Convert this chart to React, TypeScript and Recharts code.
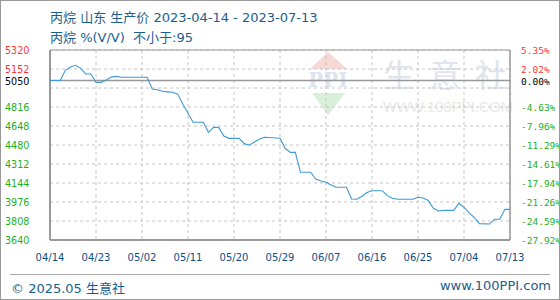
import { LineChart, Line, XAxis, YAxis, ReferenceLine, CartesianGrid } from "recharts";

const baseDate = "2023-04-14";
const basePrice = 5050;

const priceDates = [
  "04-14", "04-16", "04-17", "04-18", "04-19", "04-20", "04-21", "04-22", "04-23", "04-24",
  "04-25", "04-26", "04-27", "04-28", "05-03", "05-04", "05-05", "05-06", "05-07", "05-08",
  "05-09", "05-10", "05-11", "05-12", "05-14", "05-15", "05-16", "05-17", "05-18", "05-19",
  "05-21", "05-22", "05-23", "05-24", "05-25", "05-26", "05-29", "05-30", "05-31", "06-01",
  "06-02", "06-04", "06-05", "06-06", "06-07", "06-08", "06-09", "06-11", "06-12", "06-13",
  "06-14", "06-15", "06-16", "06-18", "06-19", "06-20", "06-21", "06-24", "06-25", "06-26",
  "06-27", "06-28", "06-29", "06-30", "07-02", "07-03", "07-04", "07-05", "07-06", "07-07",
  "07-09", "07-10", "07-11", "07-12", "07-13",
];

const prices = [
  5050, 5050, 5140, 5170, 5185, 5158, 5108, 5108, 5034, 5034,
  5055, 5080, 5087, 5079, 5079, 4975, 4969, 4955, 4950, 4946,
  4930, 4840, 4760, 4681, 4681, 4592, 4636, 4636, 4560, 4539,
  4539, 4492, 4478, 4506, 4533, 4548, 4540, 4451, 4415, 4415,
  4239, 4239, 4179, 4162, 4150, 4126, 4106, 4106, 4002, 4000,
  4025, 4060, 4076, 4076, 4032, 4009, 4000, 4000, 4018, 4012,
  3990, 3920, 3896, 3902, 3902, 3964, 3930, 3880, 3840, 3785,
  3781, 3823, 3823, 3911, 3911,
];

const xTickLabels = ["04/14", "04/23", "05/02", "05/11", "05/20", "05/29", "06/07", "06/16", "06/25", "07/04", "07/13"];
const xTickDays = [0, 9, 18, 27, 36, 45, 54, 63, 72, 81, 90];
const yTicks = [3640, 3808, 3976, 4144, 4312, 4480, 4648, 4816, 4984, 5050, 5152, 5320];
const rightTickLabels = ["-27.92%", "-24.59%", "-21.26%", "-17.94%", "-14.61%", "-11.29%", "-7.96%", "-4.63%", "", "0.00%", "2.02%", "5.35%"];
const hiddenTick = 4984;
const yMin = 3640;
const yMax = 5320;
const dayMax = 90;

const dayOf = (md: string) => {
  const [m, d] = md.split("-").map(Number);
  const t0 = Date.parse(baseDate + "T00:00:00Z");
  return Math.round((Date.UTC(2023, m - 1, d) - t0) / 86400000);
};

const data = priceDates.map((md, i) => ({ day: dayOf(md), price: prices[i] }));

const tickColor = (v: number) => (v > basePrice ? "#ff3333" : v === basePrice ? "#000000" : "#22b022");

const LeftTick = (props: any) => {
  const { y, payload } = props;
  if (payload.value === hiddenTick) return null;
  return (
    <text x={4} y={y} dy={4} fontSize={9.6} fontFamily="DejaVu Sans" fill={tickColor(payload.value)}>
      {payload.value}
    </text>
  );
};

const RightTick = (props: any) => {
  const { x, y, payload } = props;
  if (payload.value === hiddenTick) return null;
  const label = rightTickLabels[yTicks.indexOf(payload.value)];
  return (
    <text x={x + 3} y={y} dy={4} fontSize={9.5} fontFamily="DejaVu Sans Mono" fill={tickColor(payload.value)}>
      {label}
    </text>
  );
};

const XTick = (props: any) => {
  const { x, y, payload } = props;
  const idx = xTickDays.indexOf(payload.value);
  return (
    <text x={x} y={y} dy={13} textAnchor="middle" fontSize={10} fontFamily="DejaVu Sans" fill="#0b4f86">
      {xTickLabels[idx]}
    </text>
  );
};

const font = "'DejaVu Sans', 'Noto Sans CJK SC', sans-serif";
const frameColor = "#999";

export default function App() {
  return (
    <div style={{ position: "relative", width: 558, height: 298, border: "1px solid #999", background: "#fff", fontFamily: font }}>
      <style>{"body{margin:0}"}</style>
      {/* watermark */}
      <svg width={558} height={298} style={{ position: "absolute", left: 0, top: 0 }}>
        <polygon points="309,68 346,68 327,51" fill="#f6d8d4" />
        <text x={327} y={86} textAnchor="middle" fontSize={20} fontWeight="bold" fill="#dde4ef" fontFamily="DejaVu Serif">PPI</text>
        <polygon points="311,92 344,92 327,114" fill="#d8efd8" />
        <text x={382} y={86} fontSize={32} fill="#dfe4ee" fontFamily="'Noto Sans CJK SC'" letterSpacing={14}>生意社</text>
        <text x={382} y={111} fontSize={14.5} fill="#e8e8e8" fontFamily="Arial, 'Liberation Sans'">WWW.100PPI.COM</text>
      </svg>
      <div style={{ position: "absolute", left: 49, top: 6, fontSize: 13, color: "#1a5e8e", whiteSpace: "nowrap" }}>
        丙烷 山东 生产价 2023-04-14 - 2023-07-13
      </div>
      <div style={{ position: "absolute", left: 49, top: 26, fontSize: 13, color: "#1a5e8e", whiteSpace: "nowrap" }}>
        丙烷 %(V/V)&nbsp; 不小于:95
      </div>
      <div style={{ position: "absolute", left: 0, top: 0 }}>
        <LineChart width={558} height={298} data={data} margin={{ top: 49, right: 0, bottom: 29, left: 0 }}>
          <CartesianGrid stroke="#c4c4c4" strokeDasharray="3 3" />
          <XAxis
            dataKey="day"
            type="number"
            domain={[0, dayMax]}
            ticks={xTickDays}
            tick={<XTick />}
            tickLine={false}
            axisLine={false}
            interval={0}
            height={30}
          />
          <XAxis xAxisId="top" orientation="top" dataKey="day" type="number" domain={[0, dayMax]} hide />
          <YAxis
            domain={[yMin, yMax]}
            ticks={yTicks}
            tick={<LeftTick />}
            width={49}
            tickLine={false}
            axisLine={false}
            interval={0}
          />
          <YAxis
            yAxisId="right"
            orientation="right"
            domain={[yMin, yMax]}
            ticks={yTicks}
            tick={<RightTick />}
            width={49}
            tickLine={false}
            axisLine={false}
            interval={0}
          />
          <ReferenceLine y={yMax} stroke={frameColor} strokeWidth={1.2} />
          <ReferenceLine y={yMin} stroke={frameColor} strokeWidth={2} />
          <ReferenceLine x={0} stroke={frameColor} strokeWidth={2} />
          <ReferenceLine x={dayMax} stroke={frameColor} strokeWidth={1.5} />
          <ReferenceLine y={basePrice} stroke={frameColor} strokeWidth={1.5} />
          <Line
            dataKey="price"
            type="linear"
            stroke="#3d9ad6"
            strokeWidth={1.1}
            dot={false}
            isAnimationActive={false}
          />
          <Line
            yAxisId="right"
            xAxisId="top"
            dataKey="price"
            stroke="none"
            dot={false}
            activeDot={false}
            legendType="none"
            isAnimationActive={false}
          />
        </LineChart>
      </div>
      <div style={{ position: "absolute", left: 9, top: 273, width: 540, borderTop: "1px solid #aaa" }} />
      <div style={{ position: "absolute", left: 10, top: 277, fontSize: 13, color: "#1a5e8e", whiteSpace: "nowrap" }}>
        © 2025.05 生意社
      </div>
      <div style={{ position: "absolute", right: 8, top: 277, fontSize: 13, color: "#1a5e8e", whiteSpace: "nowrap" }}>
        www.100PPI.com
      </div>
    </div>
  );
}
